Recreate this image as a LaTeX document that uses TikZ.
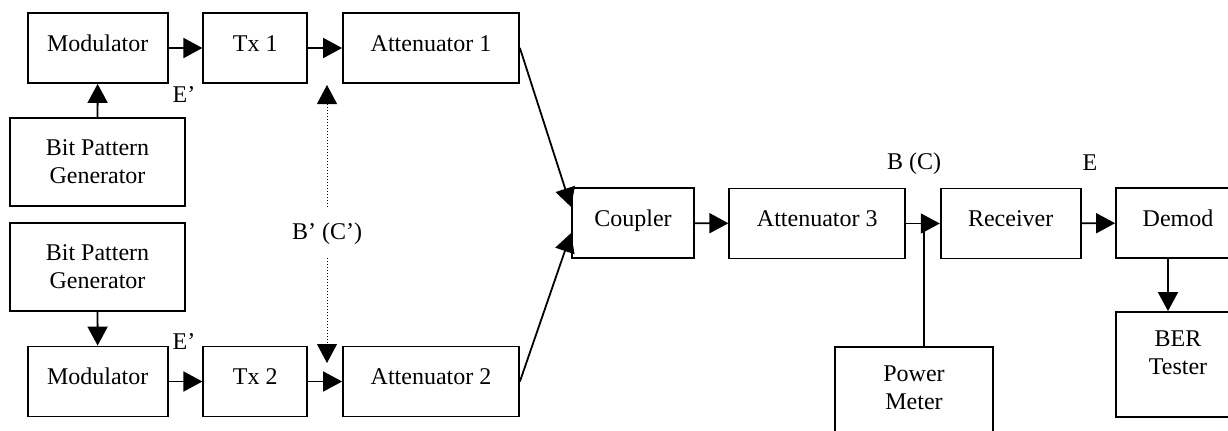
\documentclass[tikz,border=0pt]{standalone}
\usepackage{fontspec}
\setmainfont{Liberation Serif}
\usetikzlibrary{positioning,calc,arrows.meta}
\tikzset{
    banco/.style={
        x=0.5pt, y=-0.5pt,
        font=\fontsize{12}{14}\selectfont,
        % Stile per i blocchi (rettangolo)
        box/.style={draw, rectangle, align=center, line width=0.9pt,
                    inner sep=0pt},
        % blocchi a una riga
        blocco/.style={box, minimum height=35pt,
                       text height=9pt, text depth=6pt},
        % blocchi a due righe, testo in alto
        blocco2/.style={box, minimum height=52.5pt,
                        text height=22pt, text depth=12.5pt},
        % Stile per le frecce
        freccia/.style={line width=0.9pt,
                        -{Triangle[length=9.5pt,width=10pt]}},
        sonda/.style={freccia, line width=0.5pt, densely dotted},
        etichetta/.style={inner sep=0pt}
    }
}

\begin{document}
\begin{tikzpicture}[banco]
    \useasboundingbox (0,0) rectangle (1228,430);
    \clip (0,0) rectangle (1228,430);

    \node[blocco, minimum width=70pt] (mod1) at (97.7,48) {Modulator};
    \node[blocco, minimum width=52pt] (tx1) at (255.3,48) {Tx 1};
    \node[blocco, minimum width=88pt] (att1) at (431,48) {Attenuator 1};
    \node[box, minimum width=87.5pt, minimum height=44pt] (bpg1) at (97.5,162) {Bit Pattern\\Generator};

    \node[box, minimum width=87.5pt, minimum height=44pt] (bpg2) at (97.5,267) {Bit Pattern\\Generator};
    \node[blocco, minimum width=70pt] (mod2) at (97.7,381.5) {Modulator};
    \node[blocco, minimum width=52pt] (tx2) at (255.3,381.5) {Tx 2};
    \node[blocco, minimum width=88pt] (att2) at (431,381.5) {Attenuator 2};

    \node[blocco, minimum width=61pt] (coup) at (633,223) {Coupler};
    \node[blocco, minimum width=88pt] (att3) at (817.3,223.5) {Attenuator 3};
    \node[blocco, minimum width=70pt] (rx) at (1010.7,223.5) {Receiver};
    \node[blocco, minimum width=62pt] (dem) at (1178,223) {Demod};
    \node[blocco2, minimum width=62pt] (ber) at (1178,364.5) {BER\\Tester};
    \node[blocco2, minimum width=79pt] (pm) at (914,399.5) {Power\\Meter};

    \node[etichetta] (e1) at (184,95) {E'};
    \node[etichetta] (e2) at (184,342) {E'};
    \node[etichetta] (bc1) at (327,234) {B' (C')};
    \node[etichetta] (bc) at (914,164) {B (C)};
    \node[etichetta] (e) at (1090,163) {E};

    \coordinate (pA) at (327,85);
    \coordinate (pB) at (327,363);

    \draw[freccia] (bpg1) -- (mod1);
    \draw[freccia] (mod1) -- (tx1);
    \draw[freccia] (tx1) -- (att1);
    \draw[freccia] (bpg2) -- (mod2);
    \draw[freccia] (mod2) -- (tx2);
    \draw[freccia] (tx2) -- (att2);
    \draw[sonda, shorten <=8pt] (bc1.north) -- (pA);
    \draw[sonda, shorten <=6.5pt] (bc1.south) -- (pB);
    \draw[freccia] (att1.east) -- ([yshift=8pt]coup.west);
    \draw[freccia] (att2.east) -- ([yshift=-5pt]coup.west);
    \draw[freccia] (coup) -- (att3);
    \draw[freccia] (att3) -- (rx);
    \draw[line width=0.9pt] ([xshift=5pt]pm.north) -- ([xshift=5pt]pm.north |- rx.west);
    \draw[freccia] (rx) -- (dem);
    \draw[freccia] ([xshift=-5pt]dem.south) -- ([xshift=-5pt]dem.south |- ber.north);
\end{tikzpicture}
\end{document}
